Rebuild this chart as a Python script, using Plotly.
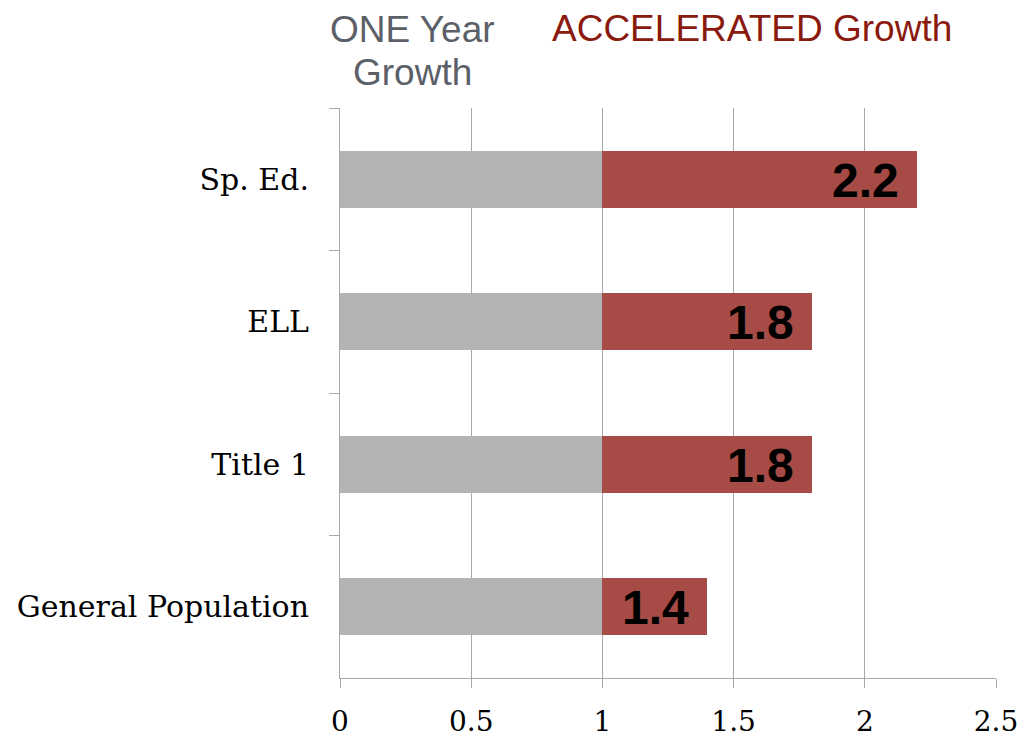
import plotly.graph_objects as go

categories = ["Sp. Ed.", "ELL", "Title 1", "General Population"]
one_year = [1, 1, 1, 1]
total_growth = [2.2, 1.8, 1.8, 1.4]
value_labels = ["2.2", "1.8", "1.8", "1.4"]
x_ticks = [0, 0.5, 1, 1.5, 2, 2.5]
x_tick_labels = ["0", "0.5", "1", "1.5", "2", "2.5"]

accelerated = [round(t - o, 2) for t, o in zip(total_growth, one_year)]

W, H = 1033, 738
OFF = 8  # page body margin
L, T = 340 - OFF, 108 - OFF
R = W - (996 - OFF)
B = H - (678 - OFF)

fig = go.Figure()
fig.add_trace(go.Bar(
    y=categories, x=one_year, orientation="h", name="ONE Year Growth",
    marker=dict(color="#B4B4B4", line=dict(width=0)), hoverinfo="x+y",
))
fig.add_trace(go.Bar(
    y=categories, x=accelerated, base=one_year, orientation="h",
    name="ACCELERATED Growth",
    marker=dict(color="#A64B45", line=dict(width=0)), hoverinfo="x+y",
))

for cat, tot, lab in zip(categories, total_growth, value_labels):
    fig.add_annotation(
        x=tot, y=cat, xref="x", yref="y", text="<b>" + lab + "</b>",
        showarrow=False, xanchor="right", yanchor="middle", xshift=-16, yshift=-1,
        font=dict(family="Liberation Sans, Arial, sans-serif", size=48, color="#000000"),
    )

pw = W - L - R
ph = H - T - B
plot_bottom = 678
title_font = dict(family="Liberation Sans, Arial, sans-serif", size=37)
fig.add_annotation(
    x=(412 - 340) / pw, y=(plot_bottom - 29) / ph, xref="paper", yref="paper",
    text="ONE Year", showarrow=False, xanchor="center", yanchor="middle",
    font=dict(title_font, color="#5B6068"),
)
fig.add_annotation(
    x=(412 - 340) / pw, y=(plot_bottom - 72) / ph, xref="paper", yref="paper",
    text="Growth", showarrow=False, xanchor="center", yanchor="middle",
    font=dict(title_font, color="#5B6068"),
)
fig.add_annotation(
    x=(550 - 340) / pw, y=(plot_bottom - 28) / ph, xref="paper", yref="paper",
    text="ACCELERATED Growth", showarrow=False, xanchor="left", yanchor="middle",
    font=dict(title_font, color="#8B1A0E"),
)

fig.update_layout(
    width=W, height=H,
    margin=dict(l=L, r=R, t=T, b=B, pad=0),
    barmode="stack", bargap=0.6,
    showlegend=False,
    plot_bgcolor="#FFFFFF", paper_bgcolor="#FFFFFF",
    xaxis=dict(
        range=[0, 2.5], tickvals=x_ticks, ticktext=x_tick_labels,
        showgrid=True, gridcolor="#A8A8A8", gridwidth=1,
        zeroline=False, showline=True, linecolor="#A8A8A8", linewidth=1,
        ticks="outside", ticklen=9, tickcolor="#A8A8A8",
        ticklabelstandoff=9, automargin=False,
        tickfont=dict(family="DejaVu Serif, serif", size=28, color="#000000"),
        fixedrange=True,
    ),
    yaxis=dict(
        autorange="reversed", type="category",
        showgrid=False, zeroline=False,
        showline=True, linecolor="#A8A8A8", linewidth=1,
        ticks="outside", tickson="boundaries", ticklen=10, tickcolor="#A8A8A8",
        ticklabelstandoff=24, automargin=False,
        tickfont=dict(family="DejaVu Serif, serif", size=30, color="#000000"),
        fixedrange=True,
    ),
)

fig.write_html("out.html")
